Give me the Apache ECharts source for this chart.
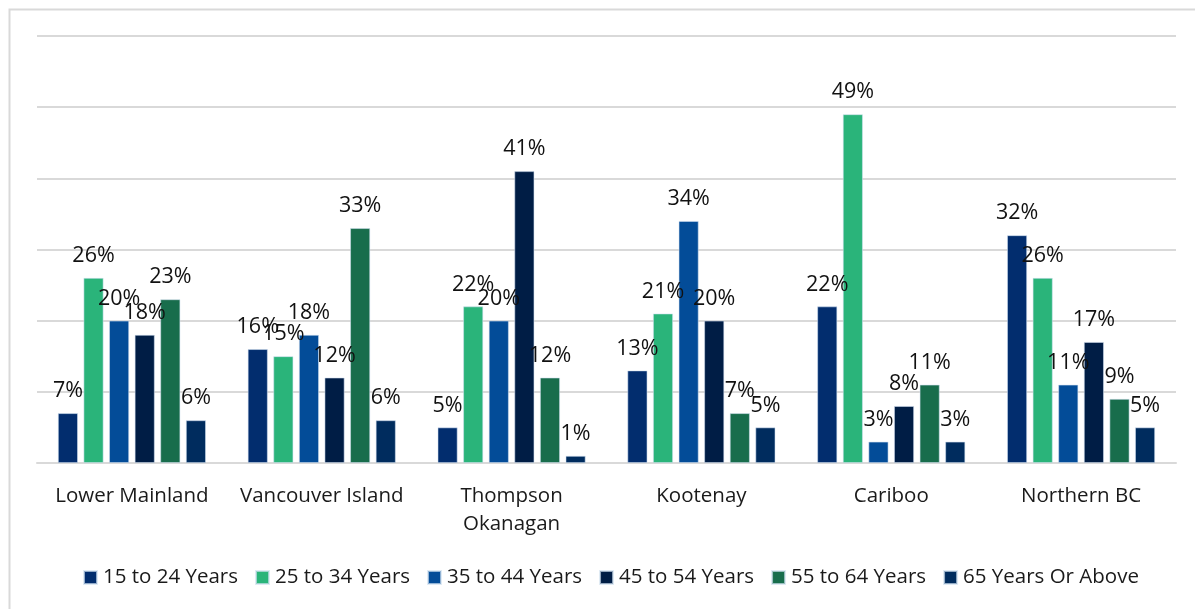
<!DOCTYPE html>
<html>
<head>
<meta charset="utf-8">
<style>
  html, body { margin: 0; padding: 0; background: #ffffff; }
  #chart { width: 1195px; height: 609px; }
</style>
<script src="https://cdn.jsdelivr.net/npm/echarts@6/dist/echarts.min.js"></script>
</head>
<body>
<div id="chart"></div>
<script>
// Regions of British Columbia
const regions = ['Lower Mainland', 'Vancouver Island', 'Thompson\nOkanagan', 'Kootenay', 'Cariboo', 'Northern BC'];

// Age groups and their share (%) in each region
const ageGroups = ['15 to 24 Years', '25 to 34 Years', '35 to 44 Years', '45 to 54 Years', '55 to 64 Years', '65 Years Or Above'];
const age15to24 = [7, 16, 5, 13, 22, 32];
const age25to34 = [26, 15, 22, 21, 49, 26];
const age35to44 = [20, 18, 20, 34, 3, 11];
const age45to54 = [18, 12, 41, 20, 8, 17];
const age55to64 = [23, 33, 12, 7, 11, 9];
const age65plus = [6, 6, 1, 5, 3, 5];

const seriesValues = [age15to24, age25to34, age35to44, age45to54, age55to64, age65plus];
const colors = ['#022d6e', '#2ab47a', '#034c98', '#001d45', '#186d4c', '#002c5e'];

const fontFamily = '"Open Sans", "Noto Sans", sans-serif';

const chart = echarts.init(document.getElementById('chart'), null, { renderer: 'canvas' });

chart.setOption({
  animation: false,
  backgroundColor: '#ffffff',
  color: colors,
  textStyle: { fontFamily: fontFamily },
  graphic: [{
    type: 'rect',
    left: 7, top: 7,
    shape: { width: 1200, height: 620 },
    style: { fill: 'none', stroke: '#d9d9d9', lineWidth: 2 },
    silent: true
  }],
  legend: {
    data: ageGroups,
    left: 78,
    top: 562,
    icon: 'rect',
    itemWidth: 13,
    itemHeight: 13,
    itemGap: 17,
    textStyle: { fontSize: 20.5, color: '#1a1a1a', fontFamily: fontFamily, padding: [0, 0, 0, 1] }
  },
  grid: { left: 37, right: 19, top: 36, bottom: 146, containLabel: false },
  xAxis: {
    type: 'category',
    data: regions,
    axisLine: { lineStyle: { color: '#d9d9d9', width: 2 } },
    axisTick: { show: false },
    axisLabel: {
      color: '#1a1a1a', fontSize: 20.5, lineHeight: 28, margin: 19,
      fontFamily: fontFamily, interval: 0
    }
  },
  yAxis: {
    type: 'value',
    min: 0, max: 60, interval: 10,
    axisLabel: { show: false },
    axisLine: { show: false },
    axisTick: { show: false },
    splitLine: { lineStyle: { color: '#d9d9d9', width: 2 } }
  },
  series: ageGroups.map((name, i) => ({
    name: name,
    type: 'bar',
    data: seriesValues[i],
    barWidth: 20,
    barGap: '28%',
    itemStyle: { color: colors[i], borderColor: 'rgba(210,225,240,0.7)', borderWidth: 0.8 },
    label: {
      show: true,
      position: 'top',
      distance: 11,
      formatter: '{c}%',
      fontSize: 21.5,
      color: '#111111',
      fontFamily: fontFamily
    }
  }))
});
</script>
</body>
</html>
